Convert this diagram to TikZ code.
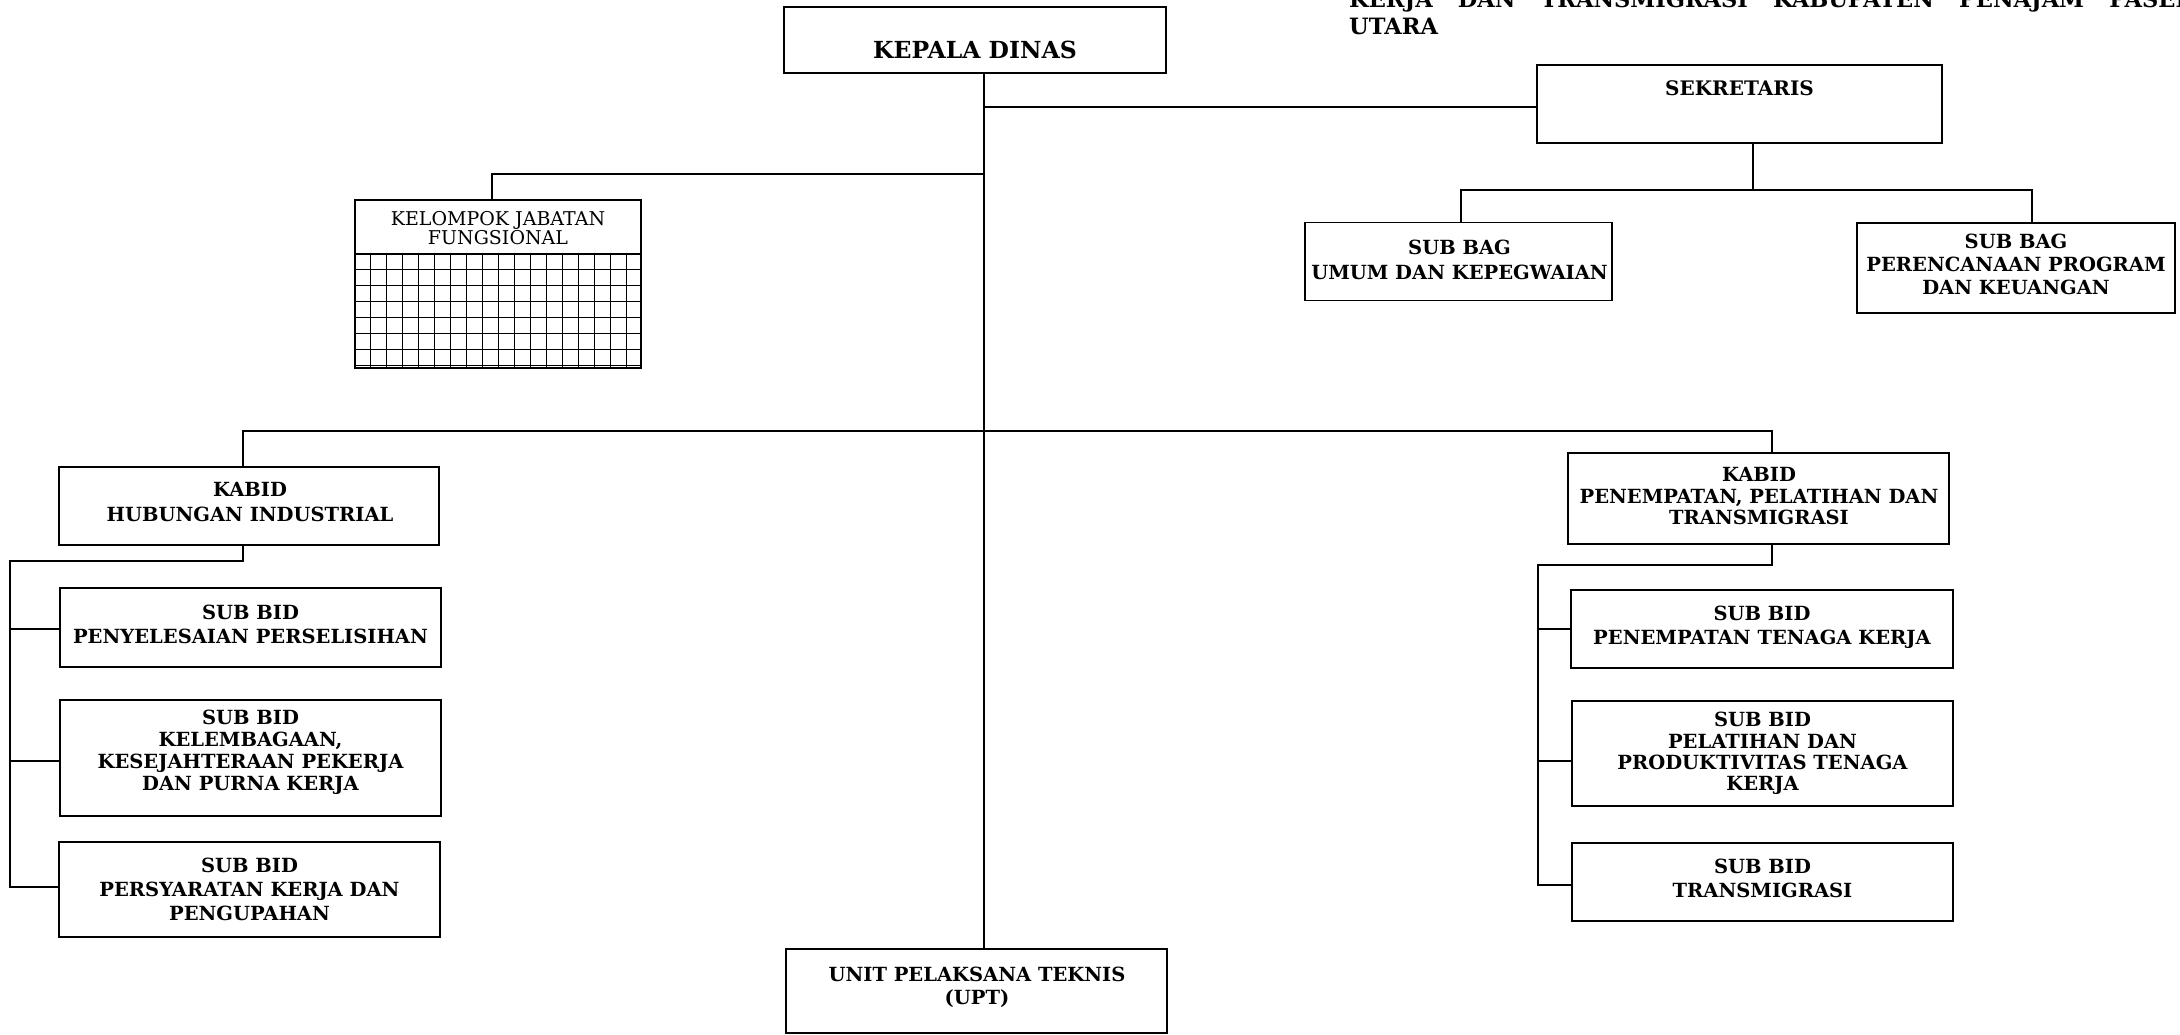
\documentclass[tikz,border=0pt]{standalone}
\usepackage{fontspec}
\setmainfont{DejaVu Serif}
\usetikzlibrary{calc}
\begin{document}
\begin{tikzpicture}[x=1pt,y=-1pt,
  boxst/.style={draw, line width=1.5pt, rectangle, inner sep=0pt},
  lbl/.style={align=center, inner sep=0pt, font=\bfseries\fontsize{19.5}{24}\selectfont},
  wire/.style={line width=1.5pt},
  gridln/.style={line width=1.2pt}]
\useasboundingbox (0,0) rectangle (2180,1034);

% header text (cut off at the top and right, as in the original)
\node[anchor=base west, inner sep=0pt, font=\bfseries\fontsize{22.5}{27}\selectfont] (hdr) at (1349,7)
  {\parbox[t]{845pt}{KERJA\hfill DAN\hfill TRANSMIGRASI\hfill KABUPATEN\hfill PENAJAM\hfill PASER\\UTARA}};

% boxes
\node[boxst, minimum width=382pt, minimum height=66pt] (kd) at (975,40) {};
\node[boxst, minimum width=405pt, minimum height=78pt] (sek) at (1739.5,104) {};
\node[boxst, minimum width=307pt, minimum height=78pt] (umum) at (1458.5,261.5) {};
\node[boxst, minimum width=318pt, minimum height=90pt] (pren) at (2016,268) {};
\node[boxst, minimum width=286pt, minimum height=54pt] (kjf) at (498,227) {};
\node[boxst, minimum width=286pt, minimum height=114pt] (kjfg) at (498,311) {};
\node[boxst, minimum width=380pt, minimum height=78pt] (khi) at (249,506) {};
\node[boxst, minimum width=381pt, minimum height=79pt] (pen) at (250.5,627.5) {};
\node[boxst, minimum width=381pt, minimum height=116pt] (kel) at (250.5,758) {};
\node[boxst, minimum width=381pt, minimum height=95pt] (per) at (249.5,889.5) {};
\node[boxst, minimum width=381pt, minimum height=91pt] (kpp) at (1758.5,498.5) {};
\node[boxst, minimum width=382pt, minimum height=78pt] (ptk) at (1762,629) {};
\node[boxst, minimum width=381pt, minimum height=105pt] (plt) at (1762.5,753.5) {};
\node[boxst, minimum width=381pt, minimum height=78pt] (trn) at (1762.5,882) {};
\node[boxst, minimum width=381pt, minimum height=84pt] (upt) at (976.5,991) {};

% grid in the functional group box
\foreach \i in {1,...,17}
  \draw[gridln] ([xshift=\i*16pt]kjfg.north west) -- ([xshift=\i*16pt]kjfg.south west);
\foreach \j in {1,...,7}
  \draw[gridln] ([yshift=-\j*16pt]kjfg.north west) -- ([yshift=-\j*16pt]kjfg.north east);

% texts
\node[lbl, font=\bfseries\fontsize{23.5}{28}\selectfont] (kdT) at (975,49.5) {KEPALA DINAS};
\node[lbl, font=\bfseries\fontsize{20}{24}\selectfont] (sekT) at (1739.5,88) {SEKRETARIS};
\node[lbl, font=\bfseries\fontsize{19.5}{25}\selectfont] (umumT) at (1459.5,259.5) {SUB BAG\\UMUM DAN KEPEGWAIAN};
\node[lbl, font=\bfseries\fontsize{19.5}{23}\selectfont] (prenT) at (2016,264) {SUB BAG\\PERENCANAAN PROGRAM\\DAN KEUANGAN};
\node[align=center, inner sep=0pt, font=\fontsize{19}{16.5}\selectfont] (kjfT) at (498,228) {KELOMPOK JABATAN\\FUNGSIONAL};
\node[lbl, font=\bfseries\fontsize{19.5}{25}\selectfont] (khiT) at (250,502.5) {KABID\\HUBUNGAN INDUSTRIAL};
\node[lbl, font=\bfseries\fontsize{19.5}{24}\selectfont] (penT) at (250.5,624) {SUB BID\\PENYELESAIAN PERSELISIHAN};
\node[lbl, font=\bfseries\fontsize{19.5}{22}\selectfont] (kelT) at (250.5,752.5) {SUB BID\\KELEMBAGAAN,\\KESEJAHTERAAN PEKERJA\\DAN PURNA KERJA};
\node[lbl, font=\bfseries\fontsize{19.5}{24}\selectfont] (perT) at (249.5,889) {SUB BID\\PERSYARATAN KERJA DAN\\PENGUPAHAN};
\node[lbl, font=\bfseries\fontsize{19.5}{21.5}\selectfont] (kppT) at (1759,496.5) {KABID\\PENEMPATAN, PELATIHAN DAN\\TRANSMIGRASI};
\node[lbl, font=\bfseries\fontsize{19.5}{24}\selectfont] (ptkT) at (1762,627.5) {SUB BID\\PENEMPATAN TENAGA KERJA};
\node[lbl, font=\bfseries\fontsize{19.5}{21.3}\selectfont] (pltT) at (1762.5,753.5) {SUB BID\\PELATIHAN DAN\\PRODUKTIVITAS TENAGA\\KERJA};
\node[lbl, font=\bfseries\fontsize{19.5}{24}\selectfont] (trnT) at (1762.5,878) {SUB BID\\TRANSMIGRASI};
\node[lbl, font=\bfseries\fontsize{19.5}{23}\selectfont] (uptT) at (977,987) {UNIT PELAKSANA TEKNIS\\(UPT)};

% connectors
\coordinate (trunk) at (984,0);
\draw[wire] (kd.south -| trunk) -- (upt.north -| trunk);
\draw[wire] ([yshift=-3pt]sek.west) -- ([yshift=-3pt]sek.west -| trunk);
\coordinate (kjfjoin) at (984,174);
\draw[wire] (kjfjoin) -| ([xshift=-6pt]kjf.north);
\coordinate (sbj) at (1753,190);
\draw[wire] ([xshift=13.5pt]sek.south) -- (sbj);
\draw[wire] ([xshift=2.5pt]umum.north) |- (sbj) -| ([xshift=16pt]pren.north);
\coordinate (mbar) at (984,431);
\draw[wire] ([xshift=-6pt]khi.north) |- (mbar) -| ([xshift=13.5pt]kpp.north);
\coordinate (lspine) at (10,561);
\draw[wire] ([xshift=-6pt]khi.south) |- (lspine) |- ([yshift=2.5pt]per.west);
\draw[wire] ([yshift=-1.5pt]lspine |- pen.west) -- ([yshift=-1.5pt]pen.west);
\draw[wire] ([yshift=-3pt]lspine |- kel.west) -- ([yshift=-3pt]kel.west);
\coordinate (rspine) at (1538,565);
\draw[wire] ([xshift=13.5pt]kpp.south) |- (rspine) |- ([yshift=-3pt]trn.west);
\draw[wire] (rspine |- ptk.west) -- (ptk.west);
\draw[wire] ([yshift=-7.5pt]rspine |- plt.west) -- ([yshift=-7.5pt]plt.west);
\end{tikzpicture}
\end{document}
